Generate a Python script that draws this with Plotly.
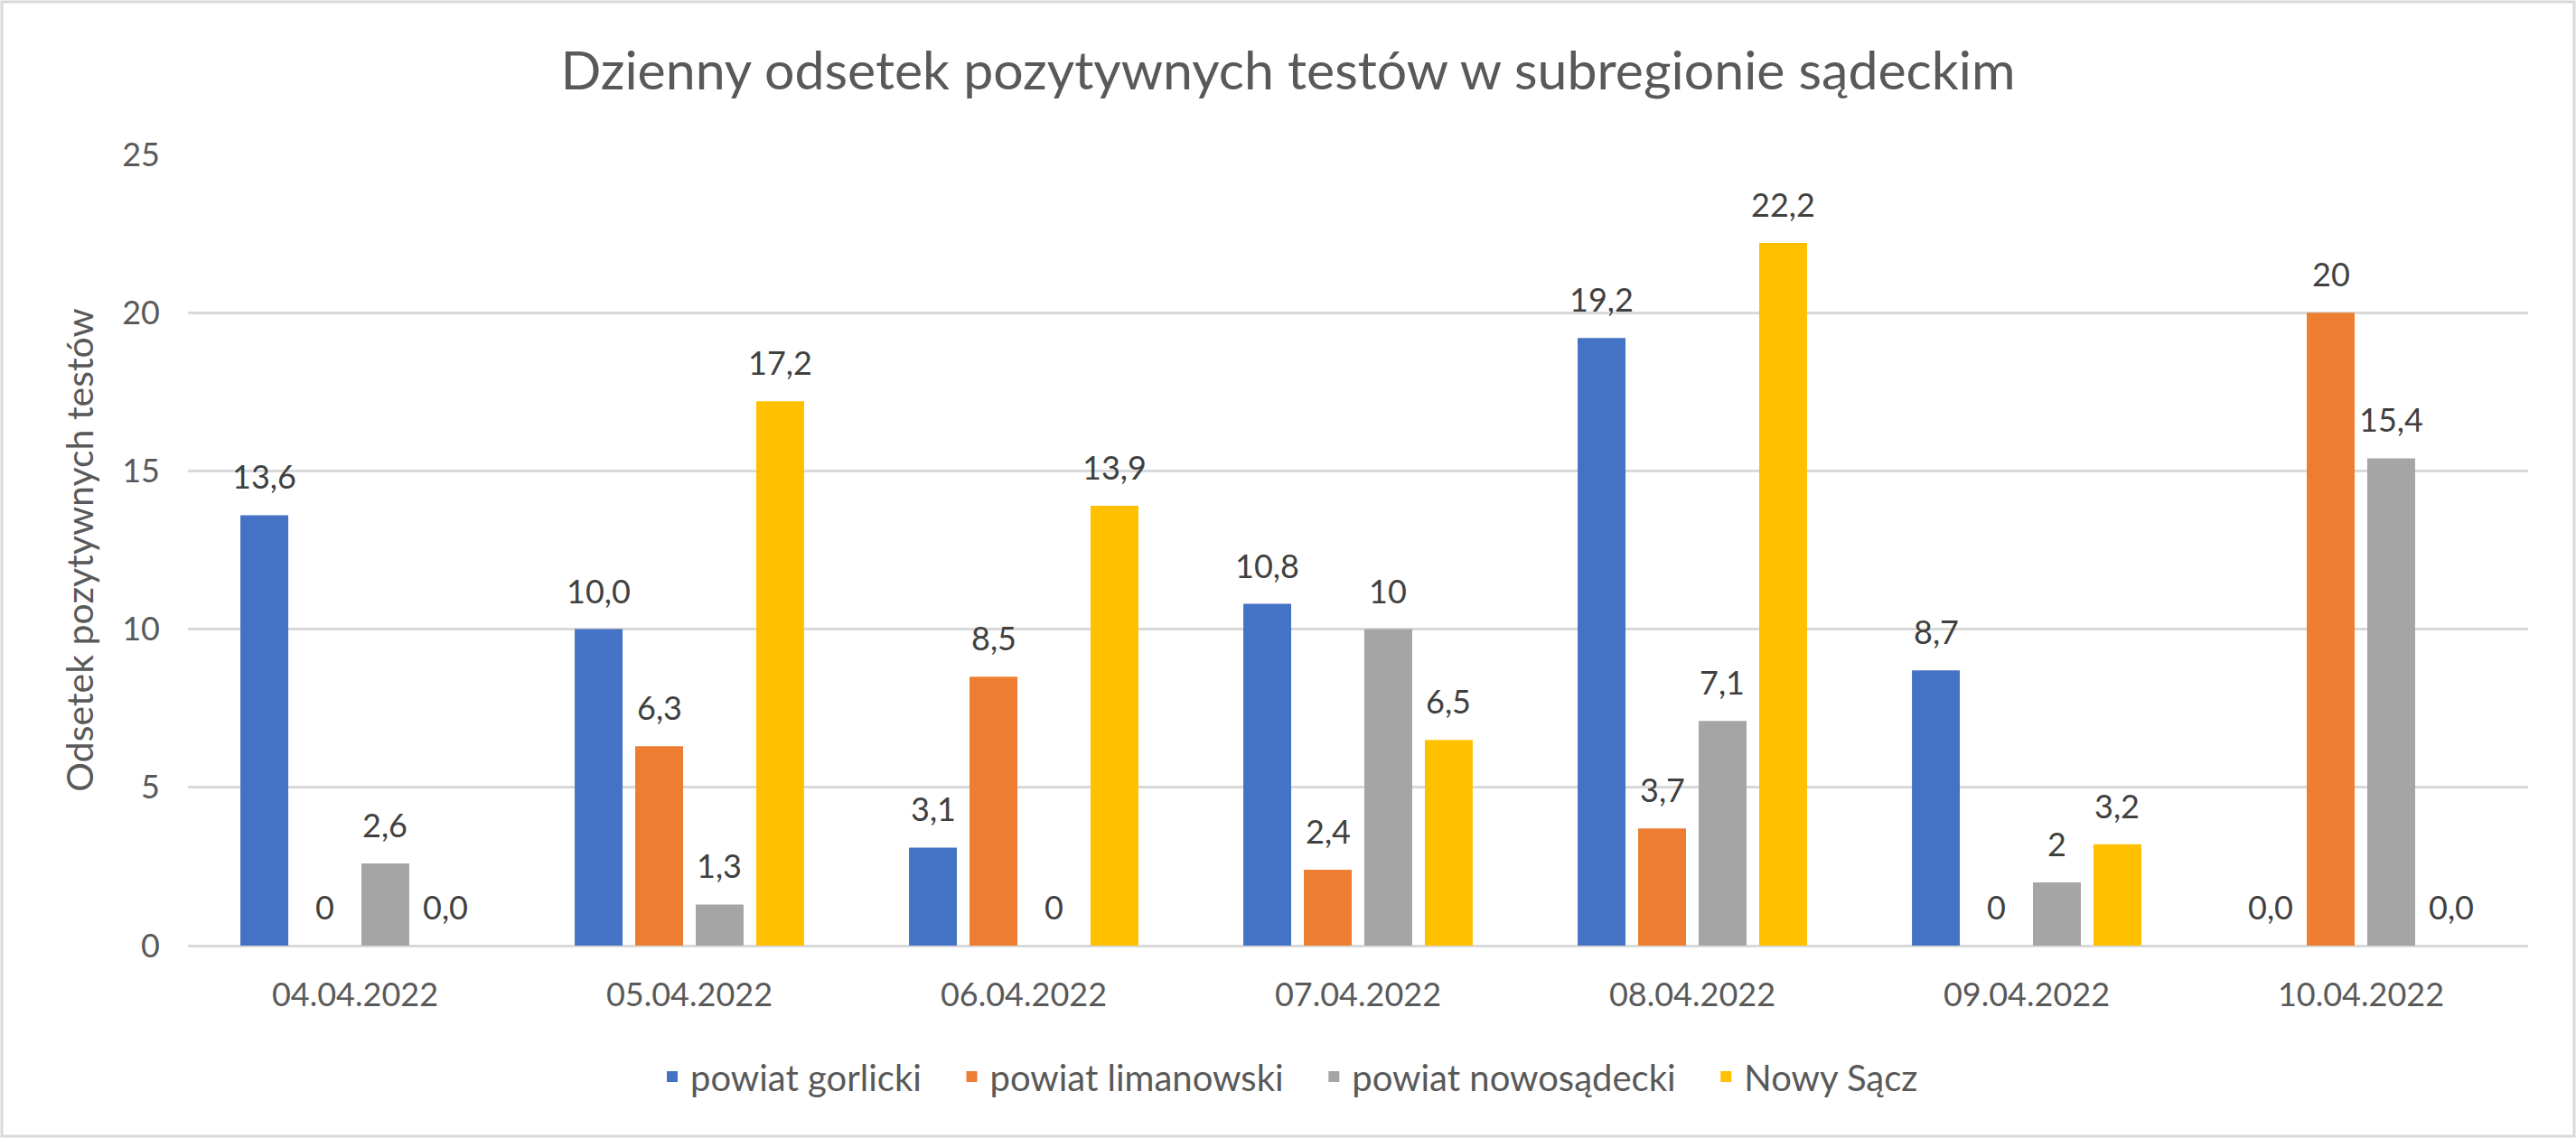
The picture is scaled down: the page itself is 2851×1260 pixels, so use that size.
import plotly.graph_objects as go

categories = ["04.04.2022", "05.04.2022", "06.04.2022", "07.04.2022",
              "08.04.2022", "09.04.2022", "10.04.2022"]
series_names = ["powiat gorlicki", "powiat limanowski", "powiat nowosądecki", "Nowy Sącz"]

gorlicki = [13.6, 10.0, 3.1, 10.8, 19.2, 8.7, 0.0]
limanowski = [0, 6.3, 8.5, 2.4, 3.7, 0, 20]
nowosadecki = [2.6, 1.3, 0, 10, 7.1, 2, 15.4]
nowy_sacz = [0.0, 17.2, 13.9, 6.5, 22.2, 3.2, 0.0]

gorlicki_labels = ["13,6", "10,0", "3,1", "10,8", "19,2", "8,7", "0,0"]
limanowski_labels = ["0", "6,3", "8,5", "2,4", "3,7", "0", "20"]
nowosadecki_labels = ["2,6", "1,3", "0", "10", "7,1", "2", "15,4"]
nowy_sacz_labels = ["0,0", "17,2", "13,9", "6,5", "22,2", "3,2", "0,0"]

y_ticks = [0, 5, 10, 15, 20, 25]

values = [gorlicki, limanowski, nowosadecki, nowy_sacz]
labels = [gorlicki_labels, limanowski_labels, nowosadecki_labels, nowy_sacz_labels]
colors = ["#4472C4", "#ED7D31", "#A5A5A5", "#FFC000"]

W, H = 2851, 1260
ML, MR, MT, MB = 208, 53, 171, 213
BARGAP = 0.276
BARGROUPGAP = 0.209
FONT = "Lato"
PAD = "\u00a0" * 3

fig = go.Figure()
for name, vals, col in zip(series_names, values, colors):
    fig.add_trace(go.Bar(name=name + PAD, x=categories, y=vals, marker_color=col,
                         marker_line_width=0))

# data labels as annotations positioned over each bar
plot_w = W - ML - MR
cat_w = plot_w / len(categories)
slot = cat_w * (1 - BARGAP) / len(values)
for i, (vals, labs) in enumerate(zip(values, labels)):
    for c, v, t in zip(categories, vals, labs):
        fig.add_annotation(x=c, y=v, text=t, showarrow=False,
                           xshift=(i - (len(values) - 1) / 2) * slot,
                           yshift=43, yanchor="middle", xanchor="center",
                           font=dict(family=FONT, size=36, color="#404040"))

plot_h = H - MT - MB
fig.add_shape(type="rect", xref="paper", yref="paper",
              x0=-(ML - 2) / plot_w, x1=1 + (MR - 2) / plot_w,
              y0=-(MB - 2) / plot_h, y1=1 + (MT - 2) / plot_h,
              line=dict(color="#D9D9D9", width=3), fillcolor="rgba(0,0,0,0)",
              layer="below")

fig.update_layout(
    width=W, height=H,
    margin=dict(l=ML, r=MR, t=MT, b=MB),
    paper_bgcolor="white", plot_bgcolor="white",
    barmode="group", bargap=BARGAP, bargroupgap=BARGROUPGAP,
    font=dict(family=FONT, color="#595959", size=36),
    title=dict(text="Dzienny odsetek pozytywnych testów w subregionie sądeckim",
               x=0.5, xanchor="center", y=1 - 78 / H, yanchor="middle",
               font=dict(family=FONT, size=59, color="#595959")),
    xaxis=dict(showgrid=False, showline=False, ticks="", ticklabelstandoff=30,
               tickfont=dict(family=FONT, size=36, color="#595959")),
    yaxis=dict(range=[0, 25], tickvals=y_ticks, showgrid=True, gridcolor="#D9D9D9",
               gridwidth=3, zeroline=True, zerolinecolor="#D9D9D9", zerolinewidth=3,
               showline=False, ticks="", ticklabelstandoff=30,
               tickfont=dict(family=FONT, size=36, color="#595959"),
               title=dict(text="Odsetek pozytywnych testów", standoff=18,
                          font=dict(family=FONT, size=41, color="#595959"))),
    legend=dict(orientation="h", x=(724 - ML) / plot_w, xanchor="left",
                y=-(1192 - (H - MB)) / plot_h,
                yanchor="middle", font=dict(family=FONT, size=40, color="#595959"),
                itemwidth=30, traceorder="normal"),
    showlegend=True,
)

fig.write_html("out.html")
